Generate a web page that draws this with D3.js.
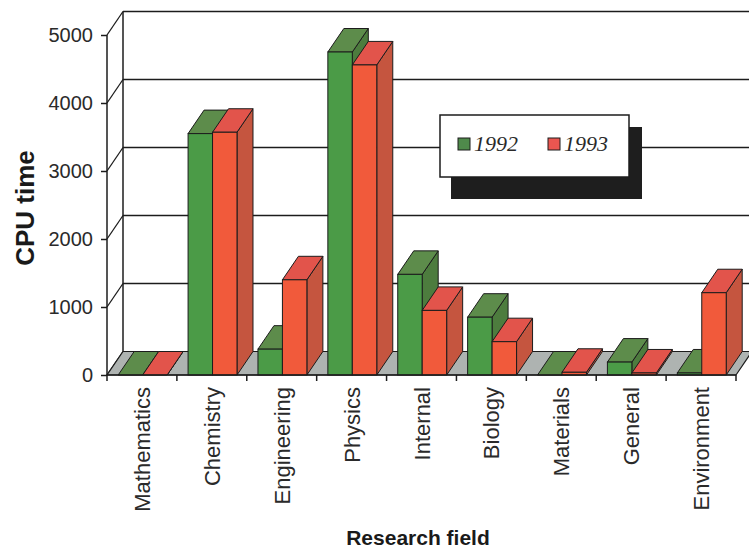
<!DOCTYPE html>
<html>
<head>
<meta charset="utf-8">
<script src="https://cdn.jsdelivr.net/npm/d3@7"></script>
<style>
  html, body { margin: 0; padding: 0; background: #ffffff; }
  svg { display: block; }
</style>
</head>
<body>
<svg id="chart" width="749" height="548"></svg>
<script>
// CPU time by research field, 1992 vs 1993
const categories = ["Mathematics", "Chemistry", "Engineering", "Physics", "Internal",
                    "Biology", "Materials", "General", "Environment"];
const seriesNames = ["1992", "1993"];
const values1992 = [0, 3550, 380, 4750, 1480, 850, 0, 190, 30];
const values1993 = [0, 3570, 1400, 4560, 950, 490, 40, 30, 1210];
const yTicks = [0, 1000, 2000, 3000, 4000, 5000];

const svg = d3.select("#chart");
const W = 749, H = 548;

// oblique depth offset of the 3-D box
const DX = 16, DY = -23.5;

const x = d3.scaleBand().domain(categories).range([107, 736]);
const xs = d3.scaleBand().domain(seriesNames)
  .range([0.16 * x.bandwidth(), 0.86 * x.bandwidth()]);
const y = d3.scaleLinear().domain([0, 5000]).range([375, 35]);

const palette = {
  "1992": { front: "#4b9b47", top: "#5d8c4b", side: "#4d7c3e" },
  "1993": { front: "#f15a3b", top: "#e2544b", side: "#c5553f" }
};
const ink = "#1c1c1c";

const x0 = x.range()[0], x1 = x.range()[1];
const yMin = y(0), yMax = y(5000);

// back wall gridlines
const g = svg.append("g");
g.selectAll("line.grid").data(yTicks.filter(d => d > 0)).join("line")
  .attr("class", "grid")
  .attr("x1", x0 + DX).attr("x2", W + 5)
  .attr("y1", d => y(d) + DY).attr("y2", d => y(d) + DY)
  .attr("stroke", ink).attr("stroke-width", 1.5);

// back wall left edge
g.append("line")
  .attr("x1", x0 + DX).attr("x2", x0 + DX)
  .attr("y1", yMin + DY).attr("y2", yMax + DY)
  .attr("stroke", ink).attr("stroke-width", 1.5);

// side wall diagonals from the front axis to the back wall
g.selectAll("line.diag").data(yTicks).join("line")
  .attr("class", "diag")
  .attr("x1", x0).attr("y1", d => y(d))
  .attr("x2", x0 + DX).attr("y2", d => y(d) + DY)
  .attr("stroke", ink).attr("stroke-width", 1.3);

// floor
g.append("path")
  .attr("d", `M${x0},${yMin} L${x1},${yMin} L${x1 + DX},${yMin + DY} L${x0 + DX},${yMin + DY} Z`)
  .attr("fill", "#aeb3b1").attr("stroke", ink).attr("stroke-width", 1.2);

// bars, drawn left to right so adjacent fronts hide side faces
const bars = [];
categories.forEach((c, i) => {
  bars.push({ cat: c, s: "1992", v: values1992[i] });
  bars.push({ cat: c, s: "1993", v: values1993[i] });
});

const barG = svg.append("g");
bars.forEach(b => {
  const left = x(b.cat) + xs(b.s);
  const right = left + xs.bandwidth();
  const top = y(b.v);
  const col = palette[b.s];
  const bg = barG.append("g");
  // side face
  bg.append("path")
    .attr("d", `M${right},${yMin} L${right + DX},${yMin + DY} L${right + DX},${top + DY} L${right},${top} Z`)
    .attr("fill", col.side).attr("stroke", ink).attr("stroke-width", 1).attr("stroke-linejoin", "round");
  // top face
  bg.append("path")
    .attr("d", `M${left},${top} L${right},${top} L${right + DX},${top + DY} L${left + DX},${top + DY} Z`)
    .attr("fill", col.top).attr("stroke", ink).attr("stroke-width", 1).attr("stroke-linejoin", "round");
  // front face
  bg.append("rect")
    .attr("x", left).attr("y", top)
    .attr("width", xs.bandwidth()).attr("height", Math.max(0, yMin - top))
    .attr("fill", col.front).attr("stroke", ink).attr("stroke-width", 1);
});

// front floor edge and front y axis line
svg.append("line")
  .attr("x1", x0).attr("x2", x1).attr("y1", yMin).attr("y2", yMin)
  .attr("stroke", ink).attr("stroke-width", 1.5);
svg.append("line")
  .attr("x1", x0).attr("x2", x0).attr("y1", yMin).attr("y2", yMax)
  .attr("stroke", ink).attr("stroke-width", 1.5);

// y axis ticks and labels
const yAxis = d3.axisLeft(y).tickValues(yTicks).tickSize(6).tickFormat(d3.format("d"));
const ya = svg.append("g").attr("transform", `translate(${x0},0)`).call(yAxis);
ya.select(".domain").remove();
ya.selectAll(".tick line").attr("stroke", ink).attr("stroke-width", 1.5);
ya.selectAll(".tick text")
  .attr("x", -14)
  .attr("font-family", "Liberation Sans, Arial, sans-serif")
  .attr("font-size", 20).attr("fill", "#2a2a2a");

// x axis ticks at category boundaries
const bounds = categories.map(c => x(c)).concat([x1]);
svg.selectAll("line.xtick").data(bounds).join("line")
  .attr("class", "xtick")
  .attr("x1", d => d).attr("x2", d => d)
  .attr("y1", yMin).attr("y2", yMin + 6)
  .attr("stroke", ink).attr("stroke-width", 1.5);

// category labels, rotated
svg.selectAll("text.cat").data(categories).join("text")
  .attr("class", "cat")
  .attr("transform", d => `translate(${x(d) + x.bandwidth() / 2 + 8},${yMin + 12}) rotate(-90)`)
  .attr("text-anchor", "end")
  .attr("font-family", "Liberation Sans, Arial, sans-serif")
  .attr("font-size", 22).attr("fill", "#2a2a2a")
  .text(d => d);

// axis titles
svg.append("text")
  .attr("transform", "translate(34,208) rotate(-90)")
  .attr("text-anchor", "middle")
  .attr("font-family", "Liberation Sans, Arial, sans-serif")
  .attr("font-weight", "bold").attr("font-size", 26).attr("fill", "#1a1a1a")
  .text("CPU time");

svg.append("text")
  .attr("x", 418).attr("y", 545)
  .attr("text-anchor", "middle")
  .attr("font-family", "Liberation Sans, Arial, sans-serif")
  .attr("font-weight", "bold").attr("font-size", 21).attr("fill", "#1a1a1a")
  .text("Research field");

// legend with drop shadow
const lg = svg.append("g");
lg.append("rect").attr("x", 451).attr("y", 127).attr("width", 191).attr("height", 72)
  .attr("fill", "#1e1e1e");
lg.append("rect").attr("x", 440).attr("y", 115).attr("width", 189).attr("height", 62)
  .attr("fill", "#ffffff").attr("stroke", ink).attr("stroke-width", 1.5);
const legendX = [458, 548];
seriesNames.forEach((s, i) => {
  lg.append("rect").attr("x", legendX[i]).attr("y", 138).attr("width", 12).attr("height", 12)
    .attr("fill", i === 0 ? "#4f8a4b" : "#ea5650").attr("stroke", ink).attr("stroke-width", 1);
  lg.append("text").attr("x", legendX[i] + 16).attr("y", 151)
    .attr("font-family", "Liberation Serif, Times New Roman, serif")
    .attr("font-style", "italic").attr("font-size", 22).attr("fill", "#2a2a2a")
    .text(s);
});
</script>
</body>
</html>
